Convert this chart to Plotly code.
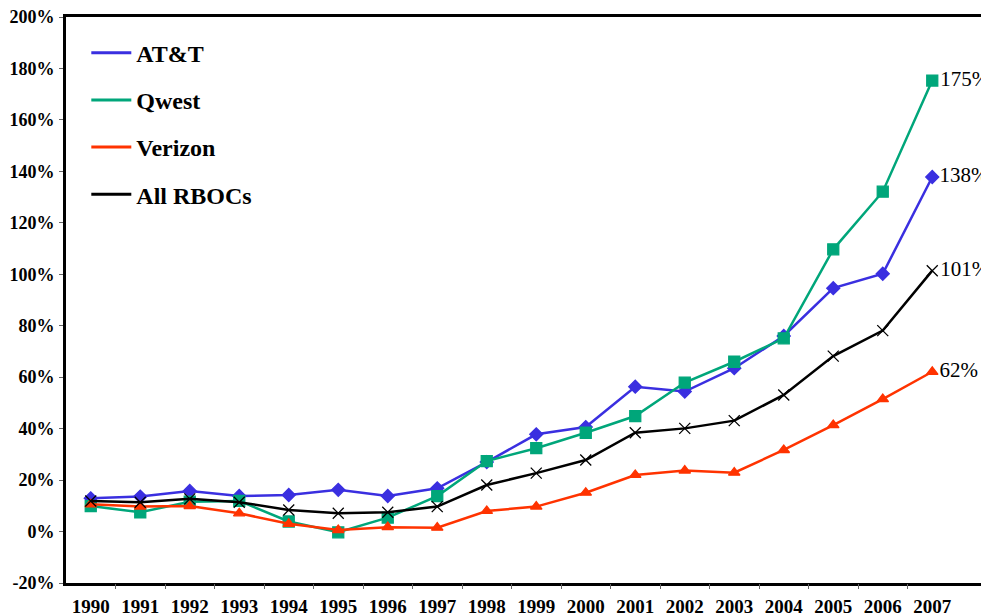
import plotly.graph_objects as go

years = [str(y) for y in range(1990, 2008)]
att = [12.9, 13.6, 15.8, 13.8, 14.2, 16.2, 13.8, 16.8, 27.0, 37.8, 40.6, 56.3, 54.4, 63.5, 76.0, 94.6, 100.2, 137.8]
qwest = [9.9, 7.5, 11.6, 11.9, 3.9, -0.3, 5.4, 13.8, 27.4, 32.4, 38.4, 44.9, 57.9, 66.0, 75.1, 109.7, 132.1, 175.3]
verizon = [10.6, 9.7, 9.9, 7.1, 3.0, 0.6, 1.7, 1.5, 8.0, 9.7, 15.1, 22.0, 23.7, 22.9, 31.7, 41.4, 51.5, 62.1]
rbocs = [11.9, 11.4, 12.7, 11.4, 8.4, 7.1, 7.5, 9.7, 18.1, 22.7, 27.8, 38.4, 40.1, 43.1, 53.1, 68.2, 78.1, 101.4]
ytick_vals = list(range(-20, 201, 20))
ytick_text = [f"<b>{v}%</b>" for v in ytick_vals]

FONT = "Liberation Serif"
series = [
    ("AT&T", att, "#3A2FE0", "diamond", 10, 2.5),
    ("Qwest", qwest, "#00A67A", "square", 11, 2.5),
    ("Verizon", verizon, "#FF3300", "triangle-up", 10, 2.5),
    ("All RBOCs", rbocs, "#000000", "x-thin-open", 11, 2.5),
]

xi = list(range(len(years)))
fig = go.Figure()
for name, vals, col, sym, size, lw in series:
    labels = [""] * (len(vals) - 1) + [f"{round(vals[-1])}%"]
    fig.add_trace(go.Scatter(
        x=xi, y=vals, mode="lines+markers+text", name=name, showlegend=False,
        line=dict(color=col, width=lw),
        marker=dict(symbol=sym, size=size, color=col, line=dict(color=col, width=1.3)),
        text=labels, textposition="middle right",
        textfont=dict(family=FONT, size=21, color="black"),
        cliponaxis=False,
    ))
for i, (name, vals, col, sym, size, lw) in enumerate(series):
    fig.add_trace(go.Scatter(
        x=[None], y=[None], mode="lines", name=f"<b>{name}</b>", legendgroup=str(i),
        line=dict(color=col, width=3),
    ))
# boundary ticks axis
fig.add_trace(go.Scatter(x=[None], y=[None], xaxis="x2", showlegend=False))

xr = [-0.5, -0.5 + 923 / 49.5]
fig.update_layout(
    width=981, height=608,
    margin=dict(l=58, r=0, t=9, b=33, autoexpand=False),
    paper_bgcolor="white", plot_bgcolor="white",
    font=dict(family=FONT, size=19, color="black"),
    showlegend=True,
    legend=dict(
        x=0.022, y=0.976, xanchor="left", yanchor="top",
        font=dict(family=FONT, size=24, color="black"),
        traceorder="grouped", tracegroupgap=13, itemwidth=40,
        bgcolor="rgba(0,0,0,0)",
    ),
    xaxis=dict(
        range=xr, tickmode="array", tickvals=xi, ticktext=[f"<b>{y}</b>" for y in years],
        ticks="", showgrid=False, zeroline=False, automargin=False,
        showline=True, linewidth=3, linecolor="black", mirror=True,
        tickfont=dict(family=FONT, size=19, color="black"),
        ticklabelstandoff=4, ticklabeloverflow="allow",
    ),
    xaxis2=dict(
        range=xr, overlaying="x", anchor="y", side="bottom", automargin=False,
        tickmode="array", tickvals=[i + 0.5 for i in range(17)],
        ticks="outside", ticklen=5, tickwidth=1, tickcolor="#666",
        showticklabels=False, showgrid=False, zeroline=False, showline=False,
    ),
    yaxis=dict(
        range=[-20, 200], tickmode="array", tickvals=ytick_vals, ticktext=ytick_text,
        ticks="outside", ticklen=4, tickwidth=1, tickcolor="#666",
        showgrid=False, zeroline=False, automargin=False,
        showline=True, linewidth=3, linecolor="black",
        tickfont=dict(family=FONT, size=18, color="black"),
        ticklabelstandoff=1, ticklabeloverflow="allow",
    ),
)
fig.write_html("out.html")
